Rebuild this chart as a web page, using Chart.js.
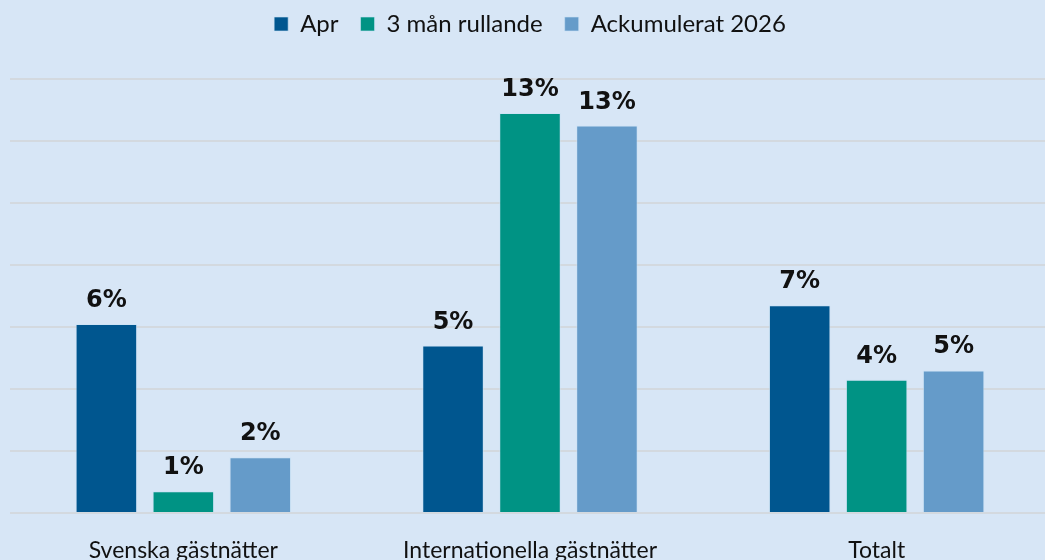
<!DOCTYPE html>
<html>
<head>
<meta charset="utf-8">
<script src="https://cdn.jsdelivr.net/npm/chart.js@4/dist/chart.umd.min.js"></script>
<style>
  html, body { margin: 0; padding: 0; background: #d7e6f6; overflow: hidden; }
  #wrap { width: 1050px; height: 560px; }
</style>
</head>
<body>
<div id="wrap"><canvas id="myChart"></canvas></div>
<script>
// categories + series (percent)
const categories = ["Svenska gästnätter", "Internationella gästnätter", "Totalt"];
const aprVals = [6.1, 5.4, 6.7];
const rollingVals = [0.7, 12.9, 4.3];
const accVals = [1.8, 12.5, 4.6];
const seriesNames = ["Apr", "3 mån rullande", "Ackumulerat 2026"];
const barColors = ["#00568f", "#009384", "#659bc9"];

const fontFam = "Lato, 'Open Sans', sans-serif";

// paints the light blue background
const bgPlugin = {
    id: 'bg',
    beforeDraw(chart) {
        const ctx = chart.ctx;
        ctx.save();
        ctx.fillStyle = '#d7e6f6';
        ctx.fillRect(0, 0, chart.width, chart.height);
        ctx.restore();
    }
};

// pushes the plot area down below the legend
const legendGap = {
    id: 'legendGap',
    beforeInit(chart) {
        const fit = chart.legend.fit;
        chart.legend.fit = function () {
            fit.bind(chart.legend)();
            this.height += 33;
        };
    }
};

// value labels over the bars
const valueLabels = {
    id: 'valueLabels',
    afterDatasetsDraw(chart) {
        const ctx = chart.ctx;
        ctx.save();
        ctx.font = "bold 24px 'DejaVu Sans', sans-serif";
        ctx.fillStyle = '#111';
        ctx.textAlign = 'center';
        ctx.textBaseline = 'alphabetic';
        chart.data.datasets.forEach((ds, i) => {
            chart.getDatasetMeta(i).data.forEach((bar, j) => {
                ctx.fillText(Math.round(ds.data[j]) + '%', bar.x, bar.y - 17);
            });
        });
        ctx.restore();
    }
};

new Chart("myChart", {
    type: "bar",
    data: {
        labels: categories,
        datasets: [
            { label: seriesNames[0], data: aprVals, backgroundColor: barColors[0] },
            { label: seriesNames[1], data: rollingVals, backgroundColor: barColors[1] },
            { label: seriesNames[2], data: accVals, backgroundColor: barColors[2] }
        ]
    },
    options: {
        responsive: true,
        maintainAspectRatio: false,
        animation: false,
        layout: { padding: { left: 10, right: 0, top: -10, bottom: 0 } },
        datasets: {
            bar: { categoryPercentage: 0.666, barPercentage: 0.8, borderWidth: 1, borderColor: 'rgba(200,225,245,0.6)' }
        },
        plugins: {
            legend: {
                position: 'top',
                labels: {
                    boxWidth: 14,
                    boxHeight: 14,
                    padding: 22,
                    color: '#111',
                    font: { family: fontFam, size: 24 }
                }
            },
            tooltip: { enabled: false }
        },
        scales: {
            x: {
                grid: { display: false },
                border: { display: false },
                ticks: { color: '#111', font: { family: fontFam, size: 23 }, padding: 16 },
                afterFit(s) { s.height = 47; }
            },
            y: {
                min: 0,
                max: 14,
                ticks: { display: false, stepSize: 2 },
                grid: { color: '#d3d9df', lineWidth: 2, drawTicks: false },
                border: { display: false },
                afterFit(s) { s.width = 0; }
            }
        }
    },
    plugins: [bgPlugin, legendGap, valueLabels]
});
</script>
</body>
</html>
